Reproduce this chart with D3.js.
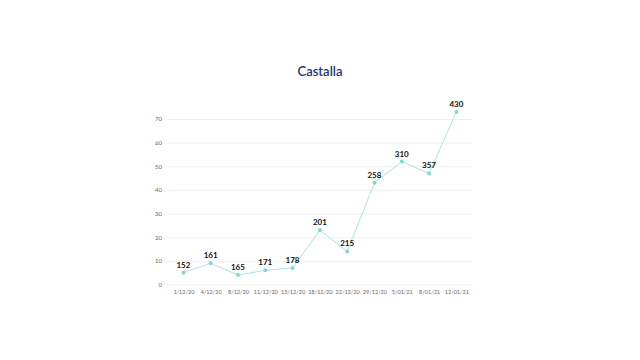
<!DOCTYPE html>
<html><head><meta charset="utf-8">
<script src="https://cdn.jsdelivr.net/npm/d3@7"></script>
<style>body{margin:0;background:#fff}svg{display:block}</style>
</head><body>
<svg id="c" width="640" height="360"></svg>
<script>
const title = "Castalla";
const categories = ["1/12/20","4/12/20","8/12/20","11/12/20","15/12/20","18/12/20","22/12/20","29/12/20","5/01/21","8/01/21","12/01/21"];
const values = [5, 9, 4, 6, 7, 23, 14, 43, 52, 47, 73];
const pointLabels = ["152","161","165","171","178","201","215","258","310","357","430"];
const yTicks = [0,10,20,30,40,50,60,70];

(function(){
const svg = d3.select("#c");
const gLeft = 167, gRight = 472, mTop = 119, mBottom = 284.5;
const x = d3.scalePoint().domain(categories).range([169.7, 470]).padding(0.5);
const y = d3.scaleLinear().domain([0, 70]).range([mBottom, mTop]);

svg.append("text").attr("x", 320).attr("y", 76).attr("text-anchor", "middle")
  .attr("font-family", "Lato, 'Open Sans', sans-serif").attr("font-size", 13).attr("font-weight", 600)
  .attr("fill", "#25366f").text(title);

const ya = svg.append("g").attr("transform", `translate(${gLeft},0)`)
  .call(d3.axisLeft(y).tickValues(yTicks).tickSize(-(gRight-gLeft)).tickPadding(5).tickFormat(d3.format("d")));
ya.select(".domain").remove();
ya.selectAll("line").attr("stroke", "#ececec").attr("stroke-width", 0.8);
ya.selectAll("text").attr("font-family", "Lato, sans-serif").attr("font-size", 6).attr("fill", "#666");

const xa = svg.append("g").attr("transform", `translate(0,${mBottom})`)
  .call(d3.axisBottom(x).tickSize(0).tickPadding(6));
xa.select(".domain").remove();
xa.selectAll("text").attr("font-family", "Lato, sans-serif").attr("font-size", 5.5).attr("fill", "#666");

const line = d3.line().x((d,i)=>x(categories[i])).y(d=>y(d));
svg.append("path").datum(values).attr("d", line).attr("fill","none")
  .attr("stroke","#a9e7e1").attr("stroke-width",1);

svg.selectAll("circle.p").data(values).join("circle").attr("class","p")
  .attr("cx",(d,i)=>x(categories[i])).attr("cy",d=>y(d)).attr("r",2).attr("fill","#7fd9d0");

svg.selectAll("text.l").data(values).join("text").attr("class","l")
  .attr("x",(d,i)=>x(categories[i])).attr("y",d=>y(d)-5).attr("text-anchor","middle")
  .attr("font-family","Lato, sans-serif").attr("font-size",8).attr("font-weight",700).attr("fill","#111")
  .text((d,i)=>pointLabels[i]);
})();
</script>
</body></html>
